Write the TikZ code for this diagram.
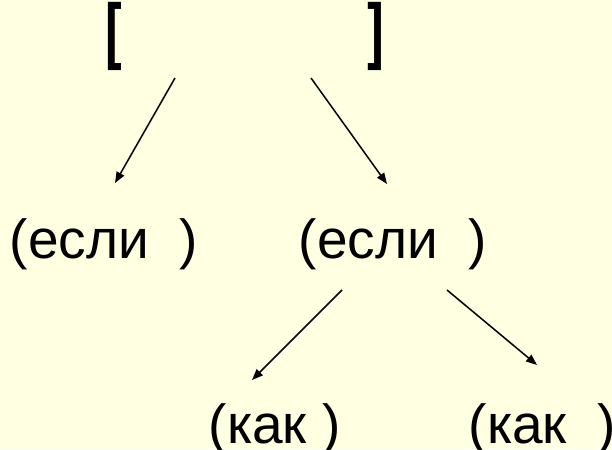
\documentclass[tikz,border=0pt]{standalone}
\usepackage{fontspec}
\setmainfont{Liberation Sans}
\setmonofont{DejaVu Sans Mono}
\usetikzlibrary{arrows.meta}
\definecolor{bgyellow}{HTML}{FFFFE1}
\tikzset{
  word/.style={inner sep=0pt, anchor=base west, font=\fontsize{55}{60}\selectfont},
  brack/.style={inner sep=0pt, anchor=base, xscale=0.8, yscale=1.16, font=\fontsize{66}{70}\selectfont\ttfamily\bfseries},
  link/.style={line width=1.5pt, -{Triangle[length=11pt,width=8.5pt]}}
}
\begin{document}
\begin{tikzpicture}[x=1pt,y=-1pt]
\useasboundingbox (0,0) rectangle (612,449);
\fill[bgyellow] (0,0) rectangle (612,449);
% brackets
\node[brack] (lb) at (113.5,61) {[};
\node[brack] (rb) at (376.5,61) {]};
% words
\node[word] (e1) at (9.5,258) {(если~~)};
\node[word] (e2) at (298.5,258) {(если~~)};
\node[word] (k1) at (208.5,443) {(как~)};
\node[word] (k2) at (468.5,443) {(как~~)};
% arrow end points
\coordinate (a1s) at (175,78);
\coordinate (a1e) at (115,183);
\coordinate (a2s) at (311,78);
\coordinate (a2e) at (387,184);
\coordinate (a3s) at (342,290);
\coordinate (a3e) at (252,380);
\coordinate (a4s) at (447,290);
\coordinate (a4e) at (537,365);
\draw[link] (a1s) -- (a1e);
\draw[link] (a2s) -- (a2e);
\draw[link] (a3s) -- (a3e);
\draw[link] (a4s) -- (a4e);
\end{tikzpicture}
\end{document}
